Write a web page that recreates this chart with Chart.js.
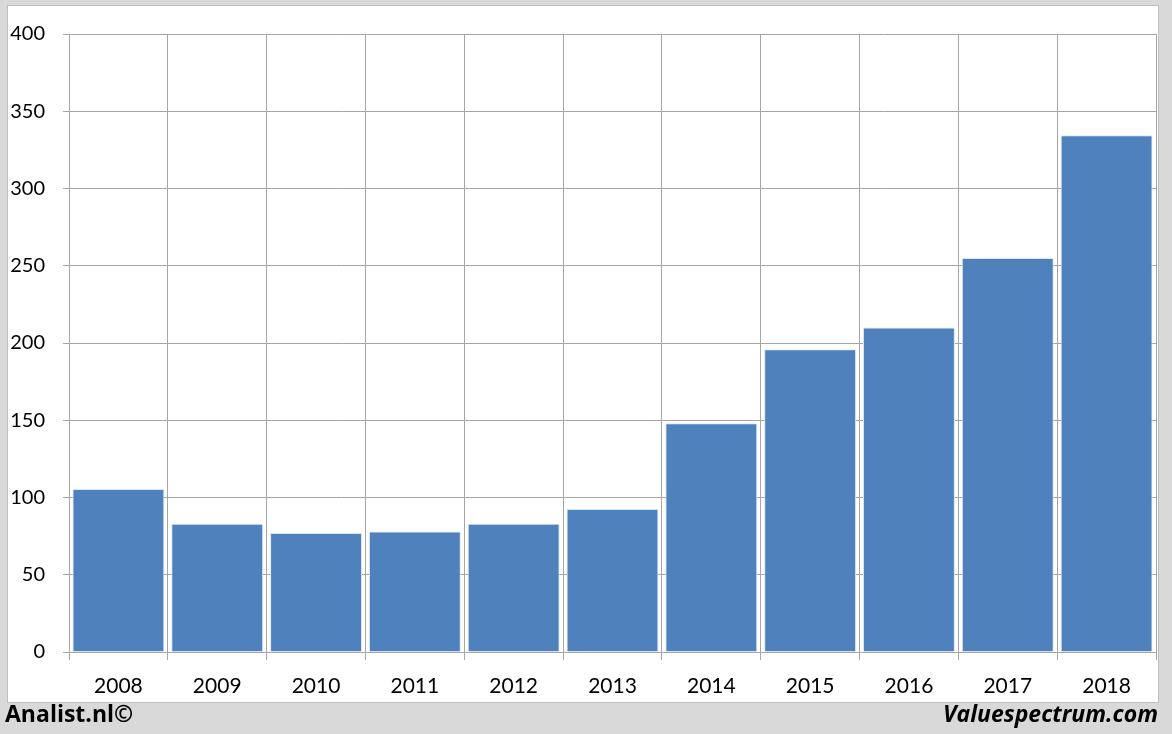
<!DOCTYPE html>
<html>
<head>
<meta charset="utf-8">
<script src="https://cdn.jsdelivr.net/npm/chart.js@4.4.0/dist/chart.umd.min.js"></script>
<style>
  html, body { margin: 0; padding: 0; }
  body { width: 1172px; height: 734px; background: #d9d9d9; position: relative; overflow: hidden; font-family: Lato, sans-serif; }
  #panel { position: absolute; left: 7px; top: 5px; width: 1150px; height: 696px; border: 1px solid #bfbfbf; background: #fff; }
  #chart { position: absolute; left: 0; top: 0; }
  .foot { position: absolute; top: 702px; font-family: 'Open Sans', sans-serif; font-size: 23px; line-height: 23px; font-weight: bold; color: #000; }
  #left { left: 5px; }
  #right { right: 14px; font-style: italic; }
</style>
</head>
<body>
<div id="panel"><canvas id="chart" width="1150" height="696"></canvas></div>
<div class="foot" id="left">Analist.nl©</div>
<div class="foot" id="right">Valuespectrum.com</div>
<script>
// Chart data
const years = ['2008', '2009', '2010', '2011', '2012', '2013', '2014', '2015', '2016', '2017', '2018'];
const values = [105.5, 83, 77, 78, 83, 92.5, 148, 196, 210, 255, 334.5];
const yTicks = [0, 50, 100, 150, 200, 250, 300, 350, 400];

document.addEventListener('DOMContentLoaded', function() {
    const ctx = document.getElementById('chart').getContext('2d');
    const gridColor = '#a6a6a6';

    new Chart(ctx, {
        type: 'bar',
        data: {
            labels: years,
            datasets: [{
                data: values,
                backgroundColor: '#4f81bd',
                borderColor: '#dbe5f1',
                borderWidth: 1,
                barPercentage: 0.93,
                categoryPercentage: 1.0
            }]
        },
        options: {
            responsive: false,
            animation: false,
            layout: { padding: { top: 28, right: 2, bottom: 0, left: 0 } },
            plugins: {
                legend: { display: false },
                tooltip: { enabled: false }
            },
            scales: {
                x: {
                    offset: true,
                    grid: {
                        offset: true,
                        color: gridColor,
                        lineWidth: 1,
                        tickLength: 8
                    },
                    border: { color: gridColor },
                    ticks: {
                        color: '#000',
                        padding: 14,
                        font: { family: 'Lato', size: 21 }
                    },
                    afterFit: function(scale) { scale.height = 50; }
                },
                y: {
                    min: 0,
                    max: 400,
                    afterBuildTicks: function(scale) {
                        scale.ticks = yTicks.map(v => ({ value: v }));
                    },
                    grid: {
                        color: gridColor,
                        lineWidth: 1,
                        tickLength: 6
                    },
                    border: { color: gridColor },
                    ticks: {
                        color: '#000',
                        padding: 18,
                        font: { family: 'Lato', size: 20 }
                    },
                    afterFit: function(scale) {
                        scale.width = 61;
                        scale.paddingTop = 0;
                        scale.paddingBottom = 0;
                    }
                }
            }
        }
    });
});
</script>
</body>
</html>
